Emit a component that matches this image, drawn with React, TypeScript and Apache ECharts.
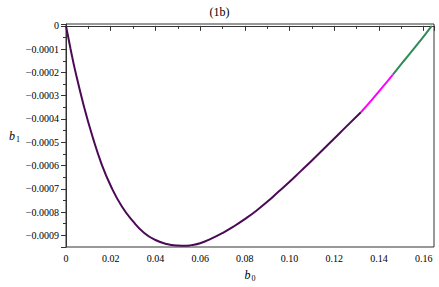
import React, { useEffect, useRef } from "react";
import * as echarts from "echarts";

const titleText = "(1b)";
const purpleX = [0, 0.002, 0.004, 0.008, 0.012, 0.016, 0.02, 0.025, 0.03, 0.035, 0.04, 0.045, 0.05, 0.053, 0.056, 0.06, 0.065, 0.07, 0.075, 0.08, 0.085, 0.09, 0.095, 0.1, 0.105, 0.11, 0.115, 0.12, 0.125, 0.1319];
const purpleY = [0, -0.000097, -0.000188, -0.000345, -0.00048, -0.000596, -0.000687, -0.000776, -0.00084, -0.00089, -0.00092, -0.000937, -0.000944, -0.000945, -0.000942, -0.000934, -0.000914, -0.00089, -0.000862, -0.00083, -0.000795, -0.000756, -0.000713, -0.00067, -0.000624, -0.000578, -0.000531, -0.000484, -0.000436, -0.000371];
const magentaX = [0.1319, 0.1365, 0.141, 0.1462];
const magentaY = [-0.000371, -0.000321, -0.00027, -0.000209];
const greenX = [0.1462, 0.151, 0.1555, 0.16, 0.1636];
const greenY = [-0.000209, -0.000152, -0.000099, -0.000045, 0];

const FONT = "'Liberation Serif', 'Times New Roman', serif";

const zip = (xs: number[], ys: number[]) => xs.map((x, i) => [x, ys[i]]);

export default function App() {
  const ref = useRef<HTMLDivElement>(null);
  useEffect(() => {
    if (!ref.current) return;
    const chart = echarts.init(ref.current, undefined, { renderer: "svg" });
    const axisColor = "#333";
    const nameRich = {
      b: { fontFamily: FONT, fontStyle: "italic", fontSize: 12, color: "#000" },
      s: { fontFamily: FONT, fontSize: 8, color: "#000", padding: [7, 0, 0, 1] },
    };
    chart.setOption({
      animation: false,
      backgroundColor: "#fff",
      title: {
        text: titleText,
        left: "center",
        top: 6,
        padding: 0,
        textStyle: { fontFamily: FONT, fontSize: 12, fontWeight: "normal", color: "#000" },
      },
      grid: {
        left: 66,
        right: 5,
        top: 24,
        bottom: 38,
        show: true,
        borderColor: axisColor,
        borderWidth: 1,
        backgroundColor: "transparent",
      },
      xAxis: {
        type: "value",
        min: 0,
        max: 0.1646,
        interval: 0.02,
        name: "{b|b}{s|0}",
        nameLocation: "middle",
        nameGap: 20,
        nameTextStyle: { rich: nameRich },
        axisLine: { show: true, lineStyle: { color: axisColor } },
        axisTick: { show: true, length: 5, lineStyle: { color: axisColor } },
        minorTick: { show: true, splitNumber: 2, length: 3, lineStyle: { color: axisColor } },
        splitLine: { show: false },
        axisLabel: {
          fontFamily: FONT,
          fontSize: 10,
          color: "#000",
          margin: 6,
          showMaxLabel: false,
          formatter: (v: number) => (Math.abs(v) < 1e-12 ? "0" : v.toFixed(2)),
        },
      },
      yAxis: {
        type: "value",
        min: -0.00095,
        max: 0.000008,
        splitNumber: 10,
        name: "{b|b}{s|1}",
        nameLocation: "middle",
        nameRotate: 0,
        nameGap: 35,
        nameTextStyle: { rich: nameRich, align: "right" },
        axisLine: { show: true, lineStyle: { color: axisColor } },
        axisTick: { show: true, length: 5, lineStyle: { color: axisColor } },
        minorTick: { show: true, splitNumber: 2, length: 3, lineStyle: { color: axisColor } },
        splitLine: { show: false },
        axisLabel: {
          fontFamily: FONT,
          fontSize: 10,
          color: "#000",
          margin: 7,
          showMinLabel: false,
          showMaxLabel: false,
          formatter: (v: number) =>
            Math.abs(v) < 1e-12 ? "0" : (v < 0 ? "\u2212" : "") + Math.abs(v).toFixed(4),
        },
      },
      series: [
        {
          type: "line",
          data: zip(purpleX, purpleY),
          smooth: true,
          showSymbol: false,
          lineStyle: { color: "#4b0a55", width: 2 },
        },
        {
          type: "line",
          data: zip(magentaX, magentaY),
          smooth: true,
          showSymbol: false,
          lineStyle: { color: "#ff00ff", width: 2 },
        },
        {
          type: "line",
          data: zip(greenX, greenY),
          smooth: true,
          showSymbol: false,
          lineStyle: { color: "#2e8b57", width: 2 },
        },
      ],
    });
    return () => chart.dispose();
  }, []);
  return (
    <div
      ref={ref}
      style={{ position: "fixed", left: 0, top: 0, width: 439, height: 287 }}
    />
  );
}
